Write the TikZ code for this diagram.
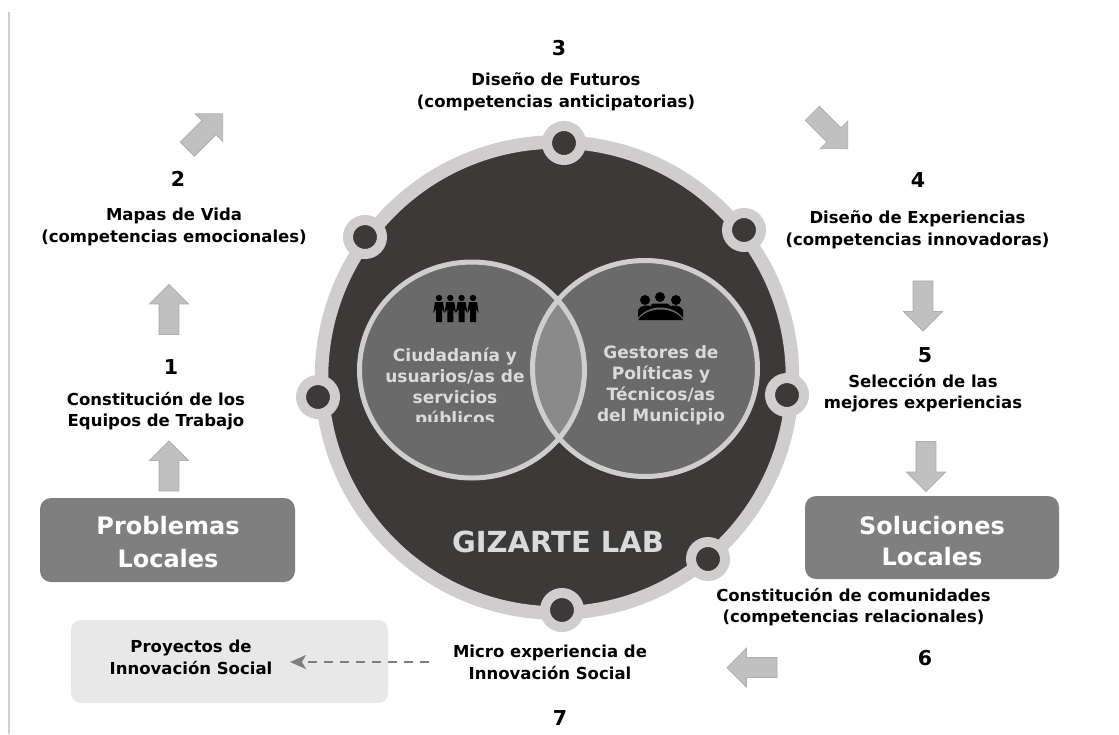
\documentclass[tikz,border=0pt]{standalone}
\usepackage{fontspec}
\setmainfont{DejaVu Sans}
\usetikzlibrary{shapes.arrows,shapes.geometric,arrows.meta}
\definecolor{ringc}{HTML}{CFCDCE}
\definecolor{darkc}{HTML}{3B3A39}
\definecolor{midc}{HTML}{6A6A6A}
\definecolor{lensc}{HTML}{8A8A8A}
\definecolor{boxc}{HTML}{7F7F7F}
\definecolor{lightc}{HTML}{E8E8E8}
\definecolor{arrc}{HTML}{C0C0C0}
\definecolor{arrb}{HTML}{AEAEAE}
\definecolor{txtc}{HTML}{DADADA}
\tikzset{
  lbl/.style={font=\fontsize{16.5}{21.5}\selectfont\bfseries,align=center,text=black,inner sep=0pt},
  num/.style={font=\fontsize{20.5}{24}\selectfont\bfseries,text=black,inner sep=0pt},
  innertxt/.style={font=\fontsize{17}{20.8}\selectfont\bfseries,align=center,text=txtc,inner sep=0pt},
  bigbox/.style={fill=boxc,rounded corners=11pt,inner sep=0pt},
  bigtxt/.style={text=white,align=center,font=\fontsize{24}{33}\selectfont\bfseries,inner sep=0pt},
  blockarr/.style={single arrow,draw=arrb,fill=arrc,line width=0.8pt,inner xsep=0pt,inner ysep=9.5pt,
     minimum height=50pt,single arrow head extend=9.5pt,single arrow tip angle=90},
  dotn/.style={circle,draw=ringc,fill=darkc,line width=10pt,minimum size=34pt,inner sep=0pt},
}
\begin{document}
\begin{tikzpicture}[x=1pt,y=-1pt]
\useasboundingbox (0,0) rectangle (1119,734);
\fill[white] (0,0) rectangle (1119,734);
\coordinate (railtop) at (9,12);
\coordinate (railbot) at (9,734);
\draw[ringc,line width=1.6pt] (railtop) -- (railbot);
% main disc
\node[circle,draw=ringc,fill=darkc,line width=13.5pt,minimum size=471pt,inner sep=0pt] (disc) at (557,377.5) {};
% venn
\coordinate (lc) at (472,370);
\coordinate (rc) at (645,368.5);
\def\vl{(lc) ellipse [x radius=112.5pt,y radius=108pt]}
\def\vr{(rc) ellipse [x radius=112.5pt,y radius=108pt]}
\fill[midc] \vl;
\fill[midc] \vr;
\begin{scope}
  \clip \vl;
  \fill[lensc] \vr;
\end{scope}
\draw[ringc,line width=5pt] \vl;
\draw[ringc,line width=5pt] \vr;
% dots
\node[dotn] (d3) at (564,143) {};
\node[dotn] (d4) at (744,230) {};
\node[dotn] (d5) at (787,395) {};
\node[dotn] (d6) at (708,559) {};
\node[dotn] (d7) at (562,610) {};
\node[dotn] (d1) at (318,397) {};
\node[dotn] (d2) at (365,237) {};
% people icon
\foreach \x in {0,11.3,22.6,34}{
  \fill[black,shift={(439+\x,295)}] (0,3) circle (3.2pt);
  \fill[black,shift={(439+\x,295)}] (-5.8,18) -- (-4,7) -- (4,7) -- (5.8,18) -- (3,14) -- (3,27) -- (-3,27) -- (-3,14) -- cycle;
}
% meeting icon
\foreach \x/\y in {645/300,660/297,676/300}{
  \fill[black] (\x,\y) circle (5pt);
}
\fill[black] (638,318) -- (638,310) .. controls (640,305) and (648,305) .. (651,306) -- (652,303.5) -- (668,303.5) -- (670,306) .. controls (673,305) and (681,305) .. (683,310) -- (683,318) -- cycle;
\fill[midc] (636,321) .. controls (646,303) and (675,303) .. (685,321) -- cycle;
\fill[black] (638,320) .. controls (647,306) and (674,306) .. (683,320) -- cycle;
% venn texts
\begin{scope}
  \clip (340,300) rectangle (560,421);
  \node[innertxt] (ciud) at (455,388) {Ciudadanía y\\usuarios/as de\\servicios\\públicos};
\end{scope}
\node[innertxt] (gest) at (661,385.5) {Gestores de\\Políticas y\\Técnicos/as\\del Municipio};
\node[font=\fontsize{29}{34}\selectfont\bfseries,text=txtc,inner sep=0pt] (gl) at (558,541.5) {GIZARTE LAB};
% boxes
\node[bigbox,minimum width=255pt,minimum height=84pt] (prob) at (167.5,540) {};
\node[bigtxt] (probt) at (168,542) {Problemas\\Locales};
\node[bigbox,minimum width=254pt,minimum height=83pt] (sol) at (932,537.5) {};
\node[bigtxt,font=\fontsize{24}{31}\selectfont\bfseries] (solt) at (932,541) {Soluciones\\Locales};
\node[fill=lightc,rounded corners=10pt,minimum width=317pt,minimum height=83pt,inner sep=0pt] (proy) at (229.5,661.5) {};
\node[lbl] (proyt) at (191,657.5) {Proyectos de\\Innovación Social};
% labels
\node[num] (n1) at (171,367) {1};
\node[lbl] (l1) at (156,411) {Constitución de los\\Equipos de Trabajo};
\node[num] (n2) at (178,179) {2};
\node[lbl] (l2) at (174,227) {Mapas de Vida\\(competencias emocionales)};
\node[num] (n3) at (559,48) {3};
\node[lbl] (l3) at (556,92) {Diseño de Futuros\\(competencias anticipatorias)};
\node[num] (n4) at (918,180) {4};
\node[lbl] (l4) at (917.5,230) {Diseño de Experiencias\\(competencias innovadoras)};
\node[num] (n5) at (925,355) {5};
\node[lbl] (l5) at (923,393) {Selección de las\\mejores experiencias};
\node[num] (n6) at (925,658) {6};
\node[lbl] (l6) at (853.5,607) {Constitución de comunidades\\(competencias relacionales)};
\node[num] (n7) at (560,718) {7};
\node[lbl] (l7) at (550,662.5) {Micro experiencia de\\Innovación Social};
% block arrows
\node[blockarr,rotate=90] (a1) at (169,471) {};
\node[blockarr,rotate=90] (a2) at (169,314.5) {};
\node[blockarr,rotate=45] (a3) at (201.5,135) {};
\node[blockarr,rotate=-45] (a4) at (826.5,127.5) {};
\node[blockarr,rotate=-90] (a5) at (923,301) {};
\node[blockarr,rotate=-90] (a6) at (926,461.5) {};
\node[blockarr,rotate=180] (a7) at (757,667.5) {};
% dashed
\coordinate (dashstart) at (429,662);
\coordinate (dashend) at (290,662);
\draw[boxc,line width=1.6pt,dash pattern=on 9pt off 7pt,-{Stealth[length=16pt,width=14pt,inset=4pt]}] (dashstart) -- (dashend);
\end{tikzpicture}
\end{document}
